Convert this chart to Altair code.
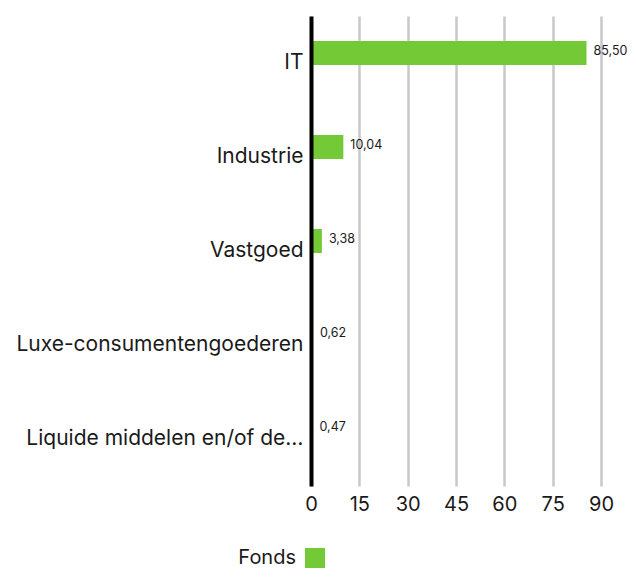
import altair as alt
import pandas as pd

categories = ["IT", "Industrie", "Vastgoed", "Luxe-consumentengoederen", "Liquide middelen en/of de…"]
values = [85.50, 10.04, 3.38, 0.62, 0.47]
series = ["Fonds"] * len(categories)
x_ticks = [0, 15, 30, 45, 60, 75, 90]

df = pd.DataFrame({"cat": categories, "val": values, "serie": series})

FONT = "Inter"
GREEN = "#74c936"

base = alt.Chart(df).encode(
    y=alt.Y("cat:N", sort=categories, title=None,
            scale=alt.Scale(paddingInner=0, paddingOuter=0),
            axis=alt.Axis(domainColor="#000000", domainWidth=4, ticks=False,
                          labelPadding=8, labelFontSize=21, labelColor="#1a1a1a",
                          labelFont=FONT, labelLimit=400, zindex=1)),
    x=alt.X("val:Q", title=None,
            scale=alt.Scale(domain=[0, 90], nice=False),
            axis=alt.Axis(values=x_ticks, domain=False, ticks=False, labelFlush=False,
                          gridColor="#c8c8c8", gridWidth=2.5, labelPadding=8,
                          labelFontSize=20, labelColor="#1a1a1a", labelFont=FONT)),
)

bars = base.mark_bar(size=24, yOffset=-10).encode(
    color=alt.Color("serie:N", scale=alt.Scale(domain=["Fonds"], range=[GREEN]),
                    legend=alt.Legend(title=None, orient="none", legendX=-6, legendY=532,
                                      symbolType="square", symbolSize=400,
                                      symbolStrokeWidth=0, symbolOpacity=1,
                                      labelAlign="right", labelOffset={"expr": "-29"},
                                      labelFontSize=20, labelColor="#1a1a1a",
                                      labelFont=FONT, padding=0, symbolOffset=0))
)

labels = base.transform_calculate(
    lbl="replace(format(datum.val, '.2f'), '.', ',')"
).mark_text(align="left", dx=7, yOffset=-12.5, fontSize=12.5, color="#1a1a1a", font=FONT).encode(
    text="lbl:N"
)

chart = (bars + labels).properties(
    width=290, height=470,
    autosize=alt.AutoSizeParams(type="none"),
    padding={"left": 303, "top": 8, "right": 27, "bottom": 82},
).configure_view(stroke=None)

chart.save("out.html", embed_options={"renderer": "svg", "actions": False})
